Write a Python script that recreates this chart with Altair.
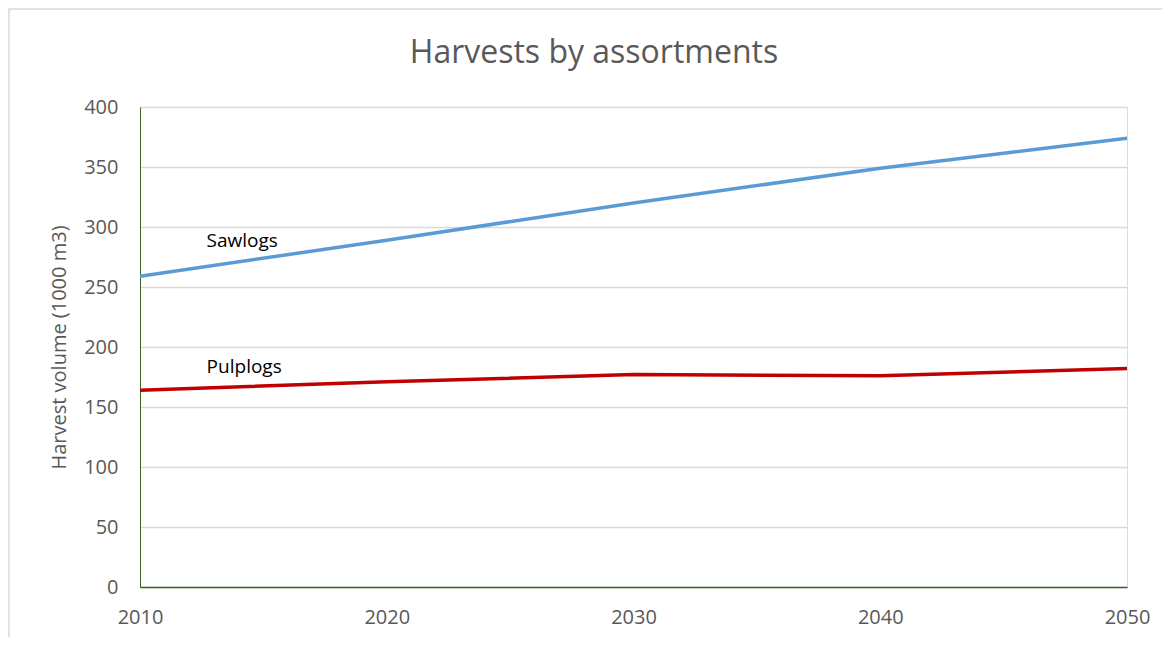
import altair as alt
import pandas as pd

years = [2010, 2020, 2030, 2040, 2050]
sawlogs = [259, 289, 320, 349, 374]
pulplogs = [164, 171, 177, 176, 182]

series_names = ["Sawlogs", "Pulplogs"]
series_colors = ["#5b9bd5", "#c00000"]

label_names = ["Sawlogs", "Pulplogs"]
label_years = [2012.7, 2012.7]
label_values = [288, 183]

chart_title = "Harvests by assortments"

rows = []
for y, v in zip(years, sawlogs):
    rows.append({"year": y, "value": v, "series": "Sawlogs"})
for y, v in zip(years, pulplogs):
    rows.append({"year": y, "value": v, "series": "Pulplogs"})
df = pd.DataFrame(rows)
labels_df = pd.DataFrame({"year": label_years, "value": label_values, "name": label_names})

FONT = "Open Sans"
AXIS_GREEN = "#3b6323"

x_scale = alt.Scale(domain=[2010, 2050], nice=False, zero=False)
y_scale = alt.Scale(domain=[0, 400], nice=False)

lines = alt.Chart(df).mark_line(strokeWidth=3.5).encode(
    x=alt.X("year:Q", scale=x_scale,
            axis=alt.Axis(values=years, format="d", title=None, grid=False,
                          ticks=False, tickSize=0, domainColor=AXIS_GREEN, domainWidth=1.5,
                          labelColor="#595959", labelFont=FONT, labelFontSize=20,
                          labelPadding=20, labelFlush=False)),
    y=alt.Y("value:Q", scale=y_scale,
            axis=alt.Axis(values=[0, 50, 100, 150, 200, 250, 300, 350, 400],
                          title="Harvest volume (1000 m3)", titleFont=FONT,
                          titleFontSize=20, titleFontWeight="normal", titleColor="#595959",
                          titlePadding=14,
                          grid=True, gridColor="#d9d9d9", gridWidth=1.3,
                          ticks=False, tickSize=0, domainColor=AXIS_GREEN, domainWidth=1,
                          labelColor="#595959", labelFont=FONT, labelFontSize=20,
                          labelPadding=22)),
    color=alt.Color("series:N", scale=alt.Scale(domain=series_names, range=series_colors),
                    legend=None),
    detail="series:N",
)

texts = alt.Chart(labels_df).mark_text(
    align="left", baseline="middle", font=FONT, fontSize=19, color="#000000"
).encode(
    x=alt.X("year:Q", scale=x_scale),
    y=alt.Y("value:Q", scale=y_scale),
    text="name:N",
)

title_mark = alt.Chart(alt.Data(values=[{"t": chart_title}])).mark_text(
    align="center", baseline="alphabetic", font=FONT, fontSize=32, color="#595959"
).encode(
    x=alt.value(454),
    y=alt.value(-44),
    text="t:N",
)

frame = alt.Chart(alt.Data(values=[{}])).mark_rect(
    fill=None, stroke="#d9d9d9", strokeWidth=1.5
).encode(
    x=alt.value(-131),
    x2=alt.value(1150),
    y=alt.value(-98),
    y2=alt.value(700),
)

chart = alt.layer(frame, lines, texts, title_mark).properties(
    width=987,
    height=480,
    padding={"left": 132, "top": 99, "right": 35, "bottom": 50},
    autosize=alt.AutoSizeParams(type="none"),
).configure_view(stroke=None).configure(background="white")

chart.save("out.html", embed_options={"renderer": "svg", "actions": False})
